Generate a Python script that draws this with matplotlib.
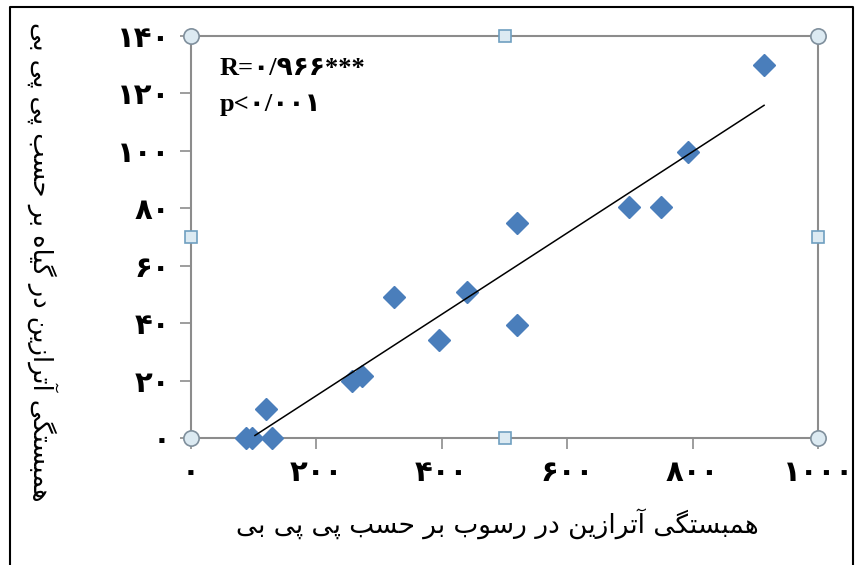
import numpy as np
import matplotlib
matplotlib.use("Agg")
from matplotlib import pyplot as plt
from matplotlib.lines import Line2D
from matplotlib.ticker import FuncFormatter

plt.rcParams['font.family'] = ['DejaVu Sans']

# data
sediment_ppb = [87, 97, 129, 119, 256, 272, 323, 396, 440, 520, 520, 698, 749, 793, 914]
plant_ppb = [0, 0, 0, 10, 20, 21.5, 49, 34, 51, 75, 39.5, 80.5, 80.5, 99.5, 130]
x_ticks = [0, 200, 400, 600, 800, 1000]
y_ticks = [0, 20, 40, 60, 80, 100, 120, 140]
x_label = "همبستگی آترازین در رسوب بر حسب پی پی بی"
y_label = "همبستگی آترازین در گیاه بر حسب پی پی بی"
stats_lines = ["R=۰/۹۶۶***", "p<۰/۰۰۱"]

# contextual forms: isolated, final, initial, medial (None = no joining to next letter)
FORMS = {
    'ا': ('\uFE8D', '\uFE8E', None, None),
    'آ': ('\uFE81', '\uFE82', None, None),
    'ب': ('\uFE8F', '\uFE90', '\uFE91', '\uFE92'),
    'پ': ('\uFB56', '\uFB57', '\uFB58', '\uFB59'),
    'ت': ('\uFE95', '\uFE96', '\uFE97', '\uFE98'),
    'ح': ('\uFEA1', '\uFEA2', '\uFEA3', '\uFEA4'),
    'د': ('\uFEA9', '\uFEAA', None, None),
    'ر': ('\uFEAD', '\uFEAE', None, None),
    'ز': ('\uFEAF', '\uFEB0', None, None),
    'س': ('\uFEB1', '\uFEB2', '\uFEB3', '\uFEB4'),
    'گ': ('\uFB92', '\uFB93', '\uFB94', '\uFB95'),
    'م': ('\uFEE1', '\uFEE2', '\uFEE3', '\uFEE4'),
    'ن': ('\uFEE5', '\uFEE6', '\uFEE7', '\uFEE8'),
    'ه': ('\uFEE9', '\uFEEA', '\uFEEB', '\uFEEC'),
    'و': ('\uFEED', '\uFEEE', None, None),
    'ی': ('\uFBFC', '\uFBFD', '\uFBFE', '\uFBFF'),
}


def shape(txt):
    out = []
    for i, ch in enumerate(txt):
        if ch not in FORMS:
            out.append(ch)
            continue
        prev = txt[i - 1] if i > 0 else ''
        nxt = txt[i + 1] if i + 1 < len(txt) else ''
        iso, fin, ini, med = FORMS[ch]
        jp = prev in FORMS and FORMS[prev][2] is not None
        jn = nxt in FORMS and ini is not None
        if jp and jn:
            out.append(med)
        elif jp:
            out.append(fin)
        elif jn:
            out.append(ini)
        else:
            out.append(iso)
    return ''.join(reversed(out))


def fa_digits(v, pos=None):
    return str(int(v)).translate(str.maketrans('0123456789', '۰۱۲۳۴۵۶۷۸۹'))


W, H = 861, 565
fig = plt.figure(figsize=(W / 100, H / 100), dpi=100)
ax = fig.add_axes([191 / W, 1 - 438 / H, (818 - 191) / W, (438 - 36) / H])

gray = '#8c8c8c'
for s in ax.spines.values():
    s.set_color(gray)
    s.set_linewidth(1.5)

ax.plot(sediment_ppb, plant_ppb, 'D', color='#4a7ebb', ms=11, mec='#4a7ebb', clip_on=False, zorder=4)

# linear trend line
k, b = np.polyfit(sediment_ppb, plant_ppb, 1)
xs = np.array([min(sediment_ppb) + 15, max(sediment_ppb)])
ax.plot(xs, k * xs + b, color='black', lw=1.1, zorder=5)

ax.set_xlim(0, 1000)
ax.set_ylim(0, 140)
ax.set_xticks(x_ticks)
ax.set_yticks(y_ticks)
ax.xaxis.set_major_formatter(FuncFormatter(fa_digits))
ax.yaxis.set_major_formatter(FuncFormatter(fa_digits))
ax.tick_params(axis='both', direction='out', length=8, width=1.2, color=gray,
               labelsize=21, pad=7)
for lab in ax.get_xticklabels() + ax.get_yticklabels():
    lab.set_fontweight('bold')

ax.text(0.045, 0.92, stats_lines[0], transform=ax.transAxes, fontsize=19, fontweight='bold',
        family=['Liberation Serif', 'DejaVu Sans'], va='center')
ax.text(0.045, 0.83, stats_lines[1], transform=ax.transAxes, fontsize=19, fontweight='bold',
        family=['Liberation Serif', 'DejaVu Sans'], va='center')

fig.text(497 / W, 1 - 524 / H, shape(x_label), fontsize=19, ha='center', va='center')
fig.text(42 / W, 1 - 262 / H, shape(y_label), fontsize=18.5, ha='center', va='center', rotation=270)

# selection handles around the plot area
hx = [0, 1, 0, 1]
hy = [0, 0, 1, 1]
ax.plot(hx, hy, 'o', ms=11, mfc='#dceaf2', mec='#7f8f9c', mew=1.2, transform=ax.transAxes,
        clip_on=False, zorder=6)
ax.plot([0.5, 0.5, 0, 1], [0, 1, 0.5, 0.5], 's', ms=9, mfc='#dceaf2', mec='#6f9fc0', mew=1.2,
        transform=ax.transAxes, clip_on=False, zorder=6)

# outer frame
fig.add_artist(Line2D([10 / W, 10 / W, 853 / W, 853 / W], [0, 1 - 7 / H, 1 - 7 / H, 0],
                      color='black', lw=1.5, transform=fig.transFigure))

fig.savefig('out.png', dpi=100)
